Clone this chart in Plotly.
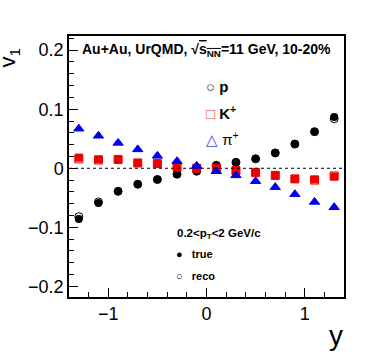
import plotly.graph_objects as go

rapidity = [-1.3, -1.1, -0.9, -0.7, -0.5, -0.3, -0.1, 0.1, 0.3, 0.5, 0.7, 0.9, 1.1, 1.3]

p_true = [-0.086, -0.059, -0.039, -0.027, -0.019, -0.010, -0.005, 0.005, 0.010, 0.016, 0.026, 0.041, 0.062, 0.087]
p_reco = [-0.082, -0.057, -0.039, -0.027, -0.019, -0.010, -0.005, 0.005, 0.010, 0.016, 0.026, 0.041, 0.062, 0.084]

k_true = [0.018, 0.015, 0.015, 0.009, 0.008, 0.002, 0.000, 0.000, -0.004, -0.007, -0.012, -0.018, -0.019, -0.014]
k_reco = [0.016, 0.014, 0.015, 0.009, 0.008, 0.002, 0.000, 0.000, -0.004, -0.007, -0.012, -0.018, -0.020, -0.013]

pi_true = [0.067, 0.055, 0.043, 0.032, 0.021, 0.012, 0.004, -0.005, -0.012, -0.022, -0.032, -0.044, -0.057, -0.066]
pi_reco = [0.067, 0.055, 0.043, 0.032, 0.021, 0.012, 0.004, -0.005, -0.012, -0.022, -0.032, -0.044, -0.057, -0.066]

FONT = "Liberation Sans, Arial, sans-serif"

fig = go.Figure()
series = [
    (p_reco, p_true, "circle", "black", 8),
    (k_reco, k_true, "square", "#ee0000", 8),
    (pi_reco, pi_true, "triangle-up", "#0000ee", 9),
]
for reco, true, sym, col, sz in series:
    fig.add_scatter(x=rapidity, y=reco, mode="markers", showlegend=False,
                    marker=dict(symbol=sym + "-open", color=col, size=sz, line=dict(width=1, color=col)))
    fig.add_scatter(x=rapidity, y=true, mode="markers", showlegend=False,
                    marker=dict(symbol=sym, color=col, size=sz, line=dict(width=0)))

# dotted zero line
fig.add_shape(type="line", xref="paper", yref="y", x0=0, x1=1, y0=0, y1=0,
              line=dict(color="black", width=1, dash="dot"))

axis_common = dict(showgrid=False, zeroline=False, showline=True, linecolor="black", linewidth=1.5,
                   mirror=True, ticks="inside", tickcolor="black", tickwidth=1.2,
                   tickfont=dict(family=FONT, size=18, color="black"))
fig.update_xaxes(range=[-1.4, 1.4], dtick=1, ticklen=9,
                 minor=dict(dtick=0.2, ticks="inside", ticklen=5, tickcolor="black"), **axis_common)
fig.update_yaxes(range=[-0.218, 0.224], dtick=0.1, ticklen=9,
                 minor=dict(dtick=0.02, ticks="inside", ticklen=5, tickcolor="black"), **axis_common)

ann = [
    dict(x=0.5, y=0.946, text="<b>Au+Au, UrQMD, √<span style='text-decoration:overline'>s<sub>NN</sub></span>=11 GeV, 10-20%</b>", size=14),
    dict(x=0.49, y=0.808, text="<span style='color:#444'>○</span> <b>p</b>", size=15, xanchor="left"),
    dict(x=0.49, y=0.705, text="<span style='color:#ee4444'>□</span> <b>K<sup>+</sup></b>", size=15, xanchor="left"),
    dict(x=0.49, y=0.609, text="<span style='color:#4444ee'>△</span> π<sup>+</sup>", size=15, xanchor="left"),
    dict(x=0.545, y=0.241, text="<b>0.2&lt;p<sub>T</sub>&lt;2 GeV/c</b>", size=11.5),
    dict(x=0.38, y=0.165, text="●   <b>true</b>", size=11, xanchor="left"),
    dict(x=0.38, y=0.080, text="○   <b>reco</b>", size=11, xanchor="left"),
]
for a in ann:
    fig.add_annotation(x=a["x"], y=a["y"], xref="paper", yref="paper", text=a["text"], showarrow=False,
                       xanchor=a.get("xanchor", "center"), yanchor="middle",
                       font=dict(family=FONT, size=a["size"], color="black"))

fig.add_annotation(x=-0.275, y=0.965, xref="paper", yref="paper", text="v<sub>1</sub>", textangle=-90,
                   showarrow=False, font=dict(family=FONT, size=22, color="black"))
fig.add_annotation(x=1.003, y=-0.213, xref="paper", yref="paper", text="y", showarrow=False,
                   font=dict(family=FONT, size=28, color="black"))

fig.update_layout(width=382, height=363, margin=dict(l=69, r=38, t=36, b=66),
                  plot_bgcolor="white", paper_bgcolor="white", showlegend=False)

fig.write_html("out.html", config={"displayModeBar": False},
               post_script="document.body.style.margin='0';")
